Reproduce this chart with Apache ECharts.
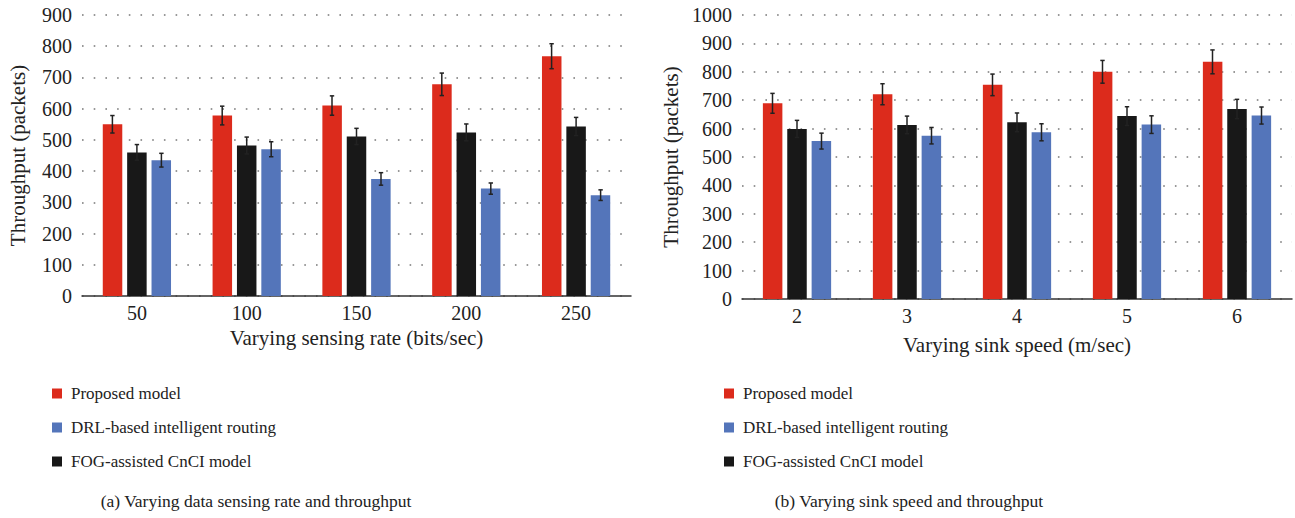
<!DOCTYPE html>
<html>
<head>
    <meta charset="utf-8"/>
    <script src="https://cdn.jsdelivr.net/npm/echarts@6/dist/echarts.min.js"></script>
    <style>
        body { margin: 0; background: #fff; }
    </style>
</head>
<body>
<div id="main" style="width: 1295px;height:518px;"></div>
<script type="text/javascript">
    // (a) sensing rate
    var sensingRates = ['50', '100', '150', '200', '250'];
    var aProposed = [550, 578, 610, 678, 768];
    var aFog = [460, 482, 511, 524, 543];
    var aDrl = [435, 470, 375, 344, 323];
    var aProposedErr = [28, 30, 31, 36, 40];
    var aFogErr = [25, 27, 26, 27, 29];
    var aDrlErr = [22, 24, 20, 18, 17];

    // (b) sink speed
    var sinkSpeeds = ['2', '3', '4', '5', '6'];
    var bProposed = [689, 721, 754, 800, 835];
    var bFog = [599, 613, 622, 644, 669];
    var bDrl = [556, 575, 587, 614, 646];
    var bProposedErr = [35, 37, 38, 40, 42];
    var bFogErr = [30, 31, 33, 33, 34];
    var bDrlErr = [28, 29, 30, 31, 30];

    var names = ['Proposed model', 'DRL-based intelligent routing', 'FOG-assisted CnCI model'];
    var RED = '#dc2b1c', BLUE = '#5475ba', BLACK = '#181818';
    var FONT = '"Liberation Serif", "DejaVu Serif", serif';
    var BAR_W = 19.5, STEP = 24.5;

    var myChart = echarts.init(document.getElementById('main'), null, {renderer: 'svg'});

    function bar(name, data, color, idx) {
        return {
            name: name,
            type: 'bar',
            xAxisIndex: idx,
            yAxisIndex: idx,
            data: data,
            barWidth: BAR_W,
            barGap: '25%',
            itemStyle: {color: color},
            z: 2
        };
    }

    // error bars drawn through the axis scale, shifted to sit on each bar
    function errBars(values, errs, offset, idx) {
        var d = values.map(function (v, i) {
            return [i, v - errs[i], v + errs[i]];
        });
        return {
            type: 'custom',
            xAxisIndex: idx,
            yAxisIndex: idx,
            data: d,
            z: 5,
            silent: true,
            encode: {x: 0, y: [1, 2]},
            renderItem: function (params, api) {
                var lo = api.coord([api.value(0), api.value(1)]);
                var hi = api.coord([api.value(0), api.value(2)]);
                var x = lo[0] + offset;
                var c = 2.2;
                var st = {stroke: '#222', lineWidth: 1.5};
                return {
                    type: 'group',
                    children: [
                        {type: 'line', shape: {x1: x, y1: lo[1], x2: x, y2: hi[1]}, style: st},
                        {type: 'line', shape: {x1: x - c, y1: lo[1], x2: x + c, y2: lo[1]}, style: st},
                        {type: 'line', shape: {x1: x - c, y1: hi[1], x2: x + c, y2: hi[1]}, style: st}
                    ]
                };
            }
        };
    }

    function xAx(cats, idx, name, gap) {
        return {
            type: 'category',
            gridIndex: idx,
            data: cats,
            name: name,
            nameLocation: 'middle',
            nameGap: gap,
            nameTextStyle: {fontFamily: FONT, fontSize: 21, color: '#222'},
            axisLine: {lineStyle: {color: '#333', width: 1.5}},
            axisTick: {show: false},
            axisLabel: {fontFamily: FONT, fontSize: 20, color: '#222', margin: 7}
        };
    }

    function yAx(idx, max, gap) {
        return {
            type: 'value',
            gridIndex: idx,
            min: 0,
            max: max,
            interval: 100,
            name: 'Throughput (packets)',
            nameLocation: 'middle',
            nameGap: gap,
            nameTextStyle: {fontFamily: FONT, fontSize: 21, color: '#222'},
            axisLine: {show: false},
            axisTick: {show: false},
            axisLabel: {
                fontFamily: FONT, fontSize: 20, color: '#222', margin: 10,
                formatter: function (v) { return String(v); }
            },
            splitLine: {
                lineStyle: {color: '#777', width: 1.6, type: [1.6, 10.1]}
            }
        };
    }

    function legend(left) {
        return {
            data: names,
            orient: 'vertical',
            left: left,
            top: 380,
            itemWidth: 10,
            itemHeight: 10,
            itemGap: 17,
            icon: 'rect',
            textStyle: {fontFamily: FONT, fontSize: 17, color: '#222', padding: [0, 0, 0, 4]}
        };
    }

    var option = {
        animation: false,
        grid: [
            {left: 82, top: 15, width: 549, height: 281},
            {left: 742, top: 15, width: 550, height: 284}
        ],
        xAxis: [
            xAx(sensingRates, 0, 'Varying sensing rate (bits/sec)', 27),
            xAx(sinkSpeeds, 1, 'Varying sink speed (m/sec)', 35)
        ],
        yAxis: [yAx(0, 900, 54), yAx(1, 1000, 61)],
        legend: [legend(47), legend(719)],
        series: [
            bar(names[0], aProposed, RED, 0),
            bar(names[2], aFog, BLACK, 0),
            bar(names[1], aDrl, BLUE, 0),
            errBars(aProposed, aProposedErr, -STEP, 0),
            errBars(aFog, aFogErr, 0, 0),
            errBars(aDrl, aDrlErr, STEP, 0),
            bar(names[0], bProposed, RED, 1),
            bar(names[2], bFog, BLACK, 1),
            bar(names[1], bDrl, BLUE, 1),
            errBars(bProposed, bProposedErr, -STEP, 1),
            errBars(bFog, bFogErr, 0, 1),
            errBars(bDrl, bDrlErr, STEP, 1)
        ],
        graphic: [
            {type: 'text', x: 256, y: 501, style: {text: '(a) Varying data sensing rate and throughput',
                font: '17.5px ' + FONT, fill: '#222', textAlign: 'center', textVerticalAlign: 'middle'}},
            {type: 'text', x: 909, y: 501, style: {text: '(b) Varying sink speed and throughput',
                font: '17.5px ' + FONT, fill: '#222', textAlign: 'center', textVerticalAlign: 'middle'}}
        ]
    };

    myChart.setOption(option);
</script>
</body>
</html>
